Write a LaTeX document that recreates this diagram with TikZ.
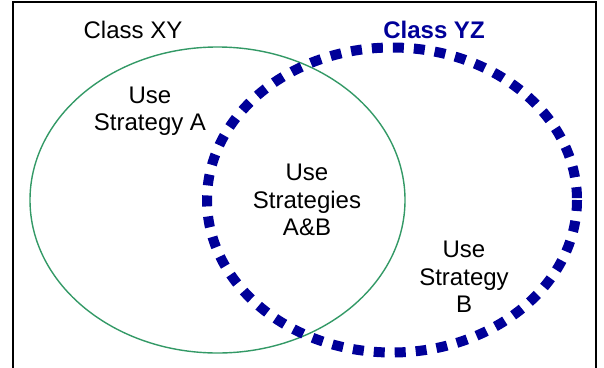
\documentclass[tikz,border=0pt]{standalone}
\usepackage{fontspec}
\setmainfont{Liberation Sans}
\definecolor{setgreen}{RGB}{51,153,102}
\definecolor{setblue}{RGB}{0,0,153}
\begin{document}
\begin{tikzpicture}[x=1pt,y=-1pt,
  lbl/.style={font=\fontsize{24}{27.5}\selectfont, align=center, inner sep=0pt},
  greenset/.style={draw=setgreen, line width=1.4pt},
  blueset/.style={draw=setblue, line width=10pt, dash pattern=on 11pt off 10pt},
  frame/.style={draw=black, line width=1.8pt}]
\useasboundingbox (0,0) rectangle (604,367);
\clip (0,0) rectangle (604,367);
\draw[frame] (13,2) rectangle (596,400);
\draw[greenset] (217.5,200) ellipse [x radius=187.5, y radius=153];
\draw[blueset] (392,200) ellipse [x radius=185, y radius=152.5];
\node[lbl, anchor=base] (xy) at (133,38) {Class XY};
\node[lbl, anchor=base, text=setblue, font=\fontsize{24}{27.5}\selectfont\bfseries] (yz) at (434,38) {Class YZ};
\node[lbl] (a) at (150,111) {Use\\Strategy A};
\node[lbl] (ab) at (307,200) {Use\\Strategies\\A\&B};
\node[lbl] (b) at (464,277) {Use\\Strategy\\B};
\end{tikzpicture}
\end{document}
